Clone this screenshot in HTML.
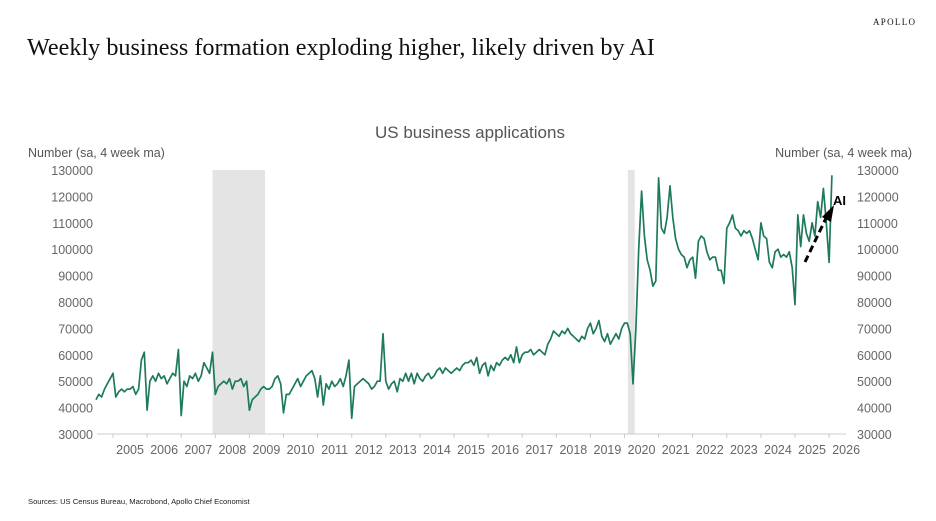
<!DOCTYPE html>
<html><head><meta charset="utf-8"><style>
html,body{margin:0;padding:0;background:#fff;}
body{width:936px;height:521px;overflow:hidden;position:relative;font-family:"Liberation Sans",sans-serif;}
</style></head><body>
<div style="position:absolute;left:873px;top:17px;font-family:'Liberation Serif',serif;font-size:9px;letter-spacing:1.3px;color:#111">APOLLO</div>
<div style="position:absolute;left:27px;top:34px;font-family:'Liberation Serif',serif;font-size:24.2px;color:#111">Weekly business formation exploding higher, likely driven by AI</div>
<div style="position:absolute;left:28px;top:497px;font-size:7.6px;color:#222">Sources: US Census Bureau, Macrobond, Apollo Chief Economist</div>
<svg id="chart" width="936" height="521" style="position:absolute;left:0;top:0" xmlns="http://www.w3.org/2000/svg"></svg>
<script>
const yTicks=[30000,40000,50000,60000,70000,80000,90000,100000,110000,120000,130000];
const years=[2005,2006,2007,2008,2009,2010,2011,2012,2013,2014,2015,2016,2017,2018,2019,2020,2021,2022,2023,2024,2025,2026];
const recessions=[[2007.92,2009.46],[2020.1,2020.3]];
const startYear=2004.5;
const values=[43,45,44,47,49,51,
53,44,46,47,46,47,47,48,45,47,58,61,
39,50,52,50,53,51,52,49,51,53,52,62,
37,50,48,52,51,53,50,52,57,55,53,61,
45,48,49,50,49,51,47,50,50,51,48,50,
39,43,44,45,47,48,47,47,48,51,52,49,
38,45,45,47,49,51,48,50,52,53,54,51,
44,52,41,49,47,50,48,49,51,48,52,58,
36,48,49,50,51,50,49,47,48,50,50,68,
50,47,49,50,46,51,50,53,50,53,49,53,
51,50,52,53,51,52,54,55,53,55,54,53,
54,55,54,56,57,57,58,56,59,53,56,57,
52,56,54,57,56,58,59,58,60,57,63,57,
60,61,61,62,60,61,62,61,60,64,66,69,
68,67,69,68,70,68,67,66,65,67,66,70,
72,68,70,73,67,65,68,64,66,68,66,70,
72,72,68,49,70,100,122,105,96,92,86,88,
127,108,106,112,124,112,104,100,98,97,93,96,
97,89,103,105,104,99,96,97,97,92,92,87,
108,110,113,108,107,105,107,106,107,104,100,96,
110,105,104,95,93,99,100,97,98,97,99,93,
79,113,101,113,106,103,110,105,118,112,123,110,
95,128];
const svg=document.getElementById('chart');
const NS='http://www.w3.org/2000/svg';
const x0=113,pxYear=34.1,yBase=434,pxK=2.64;
function xs(t){return x0+(t-2005)*pxYear;}
function ys(v){return yBase-(v-30000)/1000*pxK;}
function mk(tag,attrs,txt){const e=document.createElementNS(NS,tag);for(const k in attrs)e.setAttribute(k,attrs[k]);if(txt!==undefined)e.textContent=txt;svg.appendChild(e);return e;}
recessions.forEach(r=>{
const e=mk('rect',{x:xs(r[0]),y:ys(130000),width:xs(r[1])-xs(r[0]),height:ys(30000)-ys(130000),fill:'#e3e4e3'});


});
let ax=mk('line',{x1:97,x2:846,y1:yBase,y2:yBase,stroke:'#ccc','stroke-width':1});


years.forEach((yr,i)=>{
mk('line',{x1:xs(yr),x2:xs(yr),y1:yBase,y2:yBase+4,stroke:'#ccc'});
const t=mk('text',{x:xs(yr)+pxYear/2,y:454,'text-anchor':'middle','font-size':12.5,fill:'#666'},yr);


});
yTicks.forEach(v=>{
const a=mk('text',{x:93,y:ys(v)+5,'text-anchor':'end','font-size':12.5,fill:'#666'},v);


const b=mk('text',{x:857,y:ys(v)+5,'text-anchor':'start','font-size':12.5,fill:'#666'},v);


});
let ct=mk('text',{x:470,y:138,'text-anchor':'middle','font-size':17,fill:'#555'},'US business applications');


let lt=mk('text',{x:28,y:157,'font-size':12.5,fill:'#555'},'Number (sa, 4 week ma)');


let rt=mk('text',{x:912,y:157,'text-anchor':'end','font-size':12.5,fill:'#555'},'Number (sa, 4 week ma)');


const pts=values.map((v,i)=>xs(startYear+i/12).toFixed(1)+','+ys(v*1000).toFixed(1)).join(' ');
let pl=mk('polyline',{points:pts,fill:'none',stroke:'#1e7a5c','stroke-width':1.7,'stroke-linejoin':'round'});


let ar=mk('line',{x1:805,y1:262,x2:828,y2:214,stroke:'#000','stroke-width':3,'stroke-dasharray':'7,4'});


let ah=mk('polygon',{points:'834,205 831,222 822,217',fill:'#000'});


let ai=mk('text',{x:833,y:205,'font-size':13,'font-weight':'bold',fill:'#000'},'AI');


</script>
</body></html>
